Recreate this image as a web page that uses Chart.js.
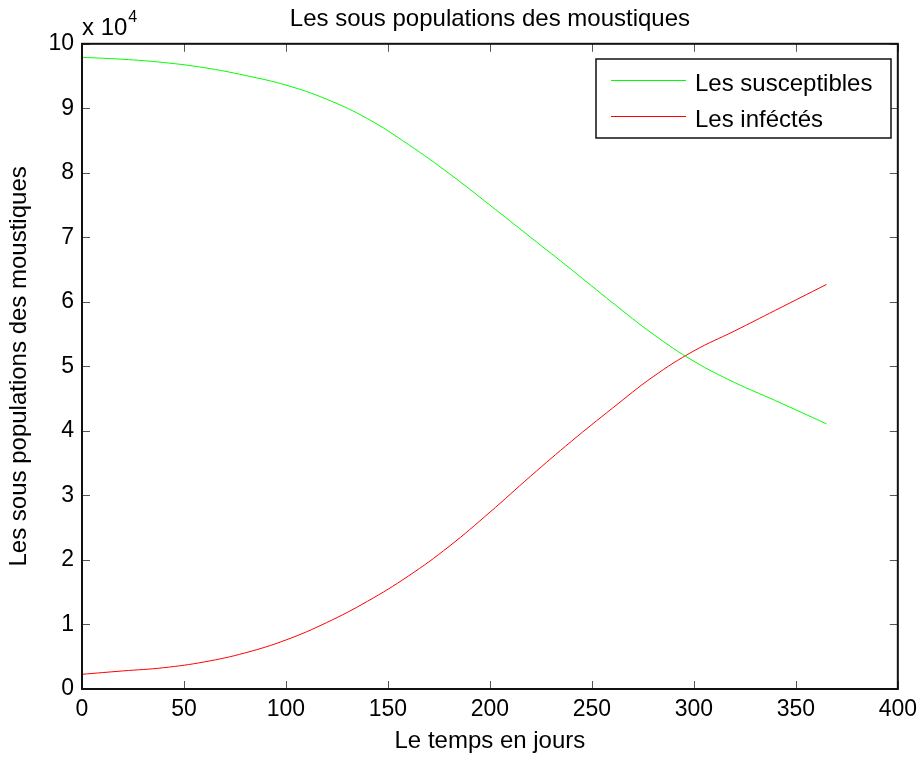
<!DOCTYPE html>
<html>
<head>
<meta charset="utf-8">
<title>Les sous populations des moustiques</title>
<script src="https://cdn.jsdelivr.net/npm/chart.js@4/dist/chart.umd.min.js"></script>
<style>
  body { margin: 0; background: #fff; }
  canvas { display: block; }
</style>
</head>
<body>
<canvas id="popChart" width="924" height="758"></canvas>
<script>
// temps (jours) et sous populations des moustiques
const days = [0, 20, 40, 60, 80, 100, 120, 140, 160, 180, 200, 220, 240, 260, 280, 300, 320, 340, 365]
const susceptibles = [97900, 97600, 97100, 96300, 95100, 93600, 91400, 88400, 84400, 79900, 75000, 70000, 65000, 59900, 55000, 50800, 47500, 44700, 41100]
const infectes = [2280, 2800, 3300, 4200, 5600, 7600, 10300, 13600, 17500, 22100, 27400, 33000, 38400, 43500, 48400, 52400, 55500, 58700, 62700]

const xTicks = [0, 50, 100, 150, 200, 250, 300, 350, 400]
const yTicks = [0, 1, 2, 3, 4, 5, 6, 7, 8, 9, 10]

const seriesNames = ['Les susceptibles', 'Les inféctés']
const seriesColors = ['#00ff00', '#ff0000']

const fontName = '"Liberation Sans", Arial, sans-serif'

function toPoints(values) {
  let pts = []
  for (let i = 0; i < days.length; i++) {
    pts.push({ x: days[i], y: values[i] })
  }
  return pts
}

// cadre, petites graduations vers l'intérieur, legende et "x 10^4"
const matlabAxes = {
  id: 'matlabAxes',
  afterDraw(chart) {
    const ctx = chart.ctx
    const area = chart.chartArea
    const xs = chart.scales.x
    const ys = chart.scales.y
    const tl = 8

    ctx.save()
    ctx.strokeStyle = '#555'
    ctx.lineWidth = 1
    ctx.beginPath()
    for (const v of xTicks) {
      const px = Math.round(xs.getPixelForValue(v)) + 0.5
      ctx.moveTo(px, area.bottom); ctx.lineTo(px, area.bottom - tl)
      ctx.moveTo(px, area.top); ctx.lineTo(px, area.top + tl)
    }
    for (const v of yTicks) {
      const py = Math.round(ys.getPixelForValue(v * 10000)) + 0.5
      ctx.moveTo(area.left, py); ctx.lineTo(area.left + tl, py)
      ctx.moveTo(area.right, py); ctx.lineTo(area.right - tl, py)
    }
    ctx.stroke()

    ctx.strokeStyle = '#111'
    ctx.lineWidth = 2
    ctx.strokeRect(area.left, area.top, area.right - area.left, area.bottom - area.top)

    // facteur d'echelle de l'axe y
    ctx.fillStyle = '#000'
    ctx.textBaseline = 'alphabetic'
    ctx.textAlign = 'left'
    ctx.font = '24px ' + fontName
    ctx.fillText('x 10', area.left, 35)
    const w = ctx.measureText('x 10').width
    ctx.font = '16px ' + fontName
    ctx.fillText('4', area.left + w + 1, 22)

    // legende
    const box = { x: 596, y: 59, w: 295, h: 79 }
    ctx.fillStyle = '#fff'
    ctx.fillRect(box.x, box.y, box.w, box.h)
    ctx.strokeStyle = '#111'
    ctx.lineWidth = 1.5
    ctx.strokeRect(box.x, box.y, box.w, box.h)
    ctx.font = '24px ' + fontName
    chart.data.datasets.forEach((ds, i) => {
      const ly = box.y + 21 + i * 36
      ctx.strokeStyle = ds.borderColor
      ctx.lineWidth = 1
      ctx.beginPath()
      ctx.moveTo(box.x + 15, ly + 0.5)
      ctx.lineTo(box.x + 90, ly + 0.5)
      ctx.stroke()
      ctx.fillStyle = '#000'
      ctx.fillText(ds.label, box.x + 99, ly + 11)
    })
    ctx.restore()
  }
}

function createChart() {
  const ctx = document.getElementById('popChart')

  new Chart(ctx, {
    type: 'line',
    data: {
      datasets: [{
        label: seriesNames[0],
        data: toPoints(susceptibles),
        borderColor: seriesColors[0],
        borderWidth: 1,
        pointRadius: 0,
        tension: 0.4
      }, {
        label: seriesNames[1],
        data: toPoints(infectes),
        borderColor: seriesColors[1],
        borderWidth: 1,
        pointRadius: 0,
        tension: 0.4
      }]
    },
    options: {
      responsive: false,
      animation: false,
      layout: { padding: { left: 0, right: 23, top: 0, bottom: 0 } },
      plugins: {
        legend: { display: false },
        tooltip: { enabled: false },
        title: {
          display: true,
          fullSize: false,
          text: 'Les sous populations des moustiques',
          color: '#000',
          font: { family: fontName, size: 24, weight: 'normal' },
          padding: { top: 5, bottom: 10 }
        }
      },
      scales: {
        x: {
          type: 'linear',
          min: 0,
          max: 400,
          afterFit: scale => { scale.height = 69 },
          afterBuildTicks: scale => { scale.ticks = xTicks.map(v => ({ value: v })) },
          grid: { display: false, drawTicks: false },
          border: { display: false },
          ticks: {
            color: '#000',
            padding: 7,
            maxRotation: 0,
            font: { family: fontName, size: 23 }
          },
          title: {
            display: true,
            text: 'Le temps en jours',
            color: '#000',
            font: { family: fontName, size: 24 },
            padding: { top: 0, bottom: 2 }
          }
        },
        y: {
          type: 'linear',
          min: 0,
          max: 100000,
          afterFit: scale => { scale.width = 82 },
          afterBuildTicks: scale => { scale.ticks = yTicks.map(v => ({ value: v * 10000 })) },
          grid: { display: false, drawTicks: false },
          border: { display: false },
          ticks: {
            color: '#000',
            padding: 8,
            font: { family: fontName, size: 23 },
            callback: value => value / 10000
          },
          title: {
            display: true,
            text: 'Les sous populations des moustiques',
            color: '#000',
            font: { family: fontName, size: 24 },
            padding: { top: 5, bottom: 0 }
          }
        }
      }
    },
    plugins: [matlabAxes]
  })
}

document.addEventListener('DOMContentLoaded', () => createChart())
</script>
</body>
</html>
